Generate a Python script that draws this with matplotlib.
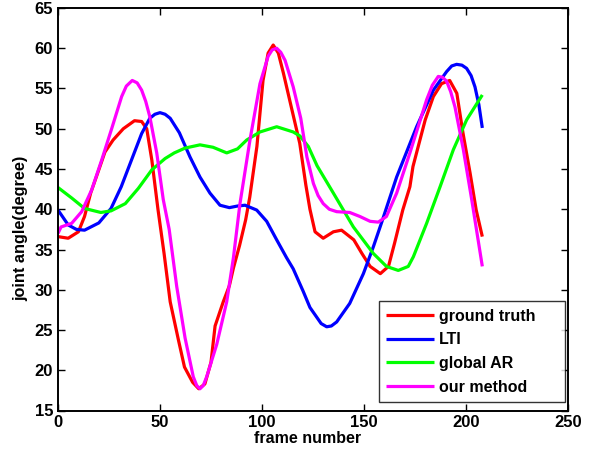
import matplotlib
matplotlib.use("Agg")
import matplotlib.pyplot as plt

# Ground truth joint angle trajectory
gt_x = [0, 5, 10, 13, 16, 20, 23, 27, 32, 37.5, 41, 43.5, 46, 49, 52, 55, 59, 62, 66, 69,
        72, 75, 77, 81, 84, 86, 89, 92, 94, 97.5, 100.5, 103, 105.5, 108, 110.5, 115, 118.5,
        121.5, 123.5, 126, 130, 135, 139, 145, 149, 153, 158, 162, 165, 169, 172.5, 174, 180,
        184, 188, 192, 195.5, 198.5, 202, 205, 208]
gt_y = [36.6, 36.4, 37.2, 39.1, 42, 44.9, 47.1, 48.6, 50, 51, 50.9, 50, 46.1, 40, 34.5, 28.5,
        23.8, 20.4, 18.5, 17.7, 18.3, 21, 25.5, 28.5, 30.5, 32.7, 35.5, 38.7, 41.5, 47.8, 56,
        59.4, 60.4, 59.4, 56.9, 52, 48.2, 43, 40, 37.2, 36.4, 37.2, 37.4, 36.2, 34.5, 32.9, 32,
        32.9, 35.8, 39.9, 42.8, 45.3, 51.1, 54, 55.6, 56, 54.4, 49.5, 44.5, 39.9, 36.6]

# LTI prediction
lti_x = [0, 5, 9, 13, 20, 26, 31, 36, 41, 45, 47.5, 50, 52.5, 55, 59.5, 64.7, 69.6, 74.5,
         79.4, 84, 88, 91.7, 97.4, 102.3, 107.2, 112, 115.3, 120.2, 123.5, 126.8, 129, 131.7,
         134, 136.6, 143, 149.7, 154.6, 158.7, 166, 175.8, 184, 190.5, 193, 195.4, 198,
         200.3, 202.5, 204.4, 206.3, 208]
lti_y = [39.9, 38.05, 37.5, 37.4, 38.3, 40.1, 42.8, 46.1, 49.4, 51.3, 51.8, 52, 51.8, 51.3,
         49.5, 46.5, 44, 42, 40.5, 40.2, 40.4, 40.5, 39.9, 38.5, 36.2, 34, 32.6, 29.8, 27.8,
         26.6, 25.8, 25.4, 25.5, 26, 28.3, 32, 35.35, 38.4, 44, 50.25, 54.8, 57.1, 57.8, 58,
         57.9, 57.5, 56.6, 55.2, 53, 50.1]

# Global AR prediction
ar_x = [0, 6.7, 13, 21, 26, 33, 39.4, 46, 52.5, 57, 62.3, 69.6, 76, 82.7, 88, 92.5, 99,
        107.2, 115.3, 118.6, 122.7, 127, 135, 144.8, 154.6, 161, 166.8, 171.7, 174.2, 180.7,
        187.3, 193.8, 200.3, 208]
ar_y = [42.7, 41.4, 40.1, 39.6, 39.8, 40.7, 42.6, 44.9, 46.3, 47, 47.6, 48, 47.7, 47, 47.5,
        48.6, 49.6, 50.25, 49.6, 49.1, 47.8, 45.4, 42, 37.8, 34.5, 32.9, 32.4, 32.9, 34.1,
        38.25, 42.8, 47.4, 51.1, 54.2]

# Proposed method prediction
ours_x = [0, 1.5, 6.7, 11.6, 16.5, 21.4, 26.3, 31.2, 33.5, 36.4, 38.8, 41, 43, 45, 48.4,
          51.6, 54.5, 58.2, 62.3, 66.3, 68, 69.6, 71.2, 72.9, 77.8, 82.7, 86, 89.2, 94.1, 99,
          103, 105, 107.2, 109.2, 111.3, 115.3, 119, 122, 125.2, 127.5, 130, 133, 136.6, 143,
          148, 153, 157, 161, 166, 172.5, 180.7, 183.5, 186.4, 188.5, 190.5, 192.5, 194.6,
          198.7, 202.8, 208]
ours_y = [37, 37.8, 38.25, 39.7, 42.4, 46.1, 50, 54, 55.3, 56, 55.7, 54.8, 53.4, 51.5, 47,
          41.2, 37.5, 30.4, 24, 19.2, 18.1, 17.7, 18.1, 19.2, 23.2, 28.5, 34, 40.7, 48.6,
          55.6, 59, 59.8, 60, 59.5, 58.5, 55.2, 51.3, 46.5, 43.2, 41.7, 40.7, 40, 39.7, 39.6,
          39.1, 38.5, 38.4, 39.1, 42, 47, 53.6, 55.4, 56.5, 56.4, 55.9, 54.6, 52.7, 47.4,
          41.2, 32.9]

labels = ["ground truth", "LTI", "global AR", "our method"]
colors = ["#ff0000", "#0000ff", "#00ff00", "#ff00ff"]

x_ticks = [0, 50, 100, 150, 200, 250]
y_ticks = [15, 20, 25, 30, 35, 40, 45, 50, 55, 60, 65]

plt.rcParams["font.family"] = ["Liberation Sans", "DejaVu Sans"]
plt.rcParams["font.weight"] = "bold"

fig = plt.figure(figsize=(5.94, 4.49), dpi=100)
ax = fig.add_axes([58 / 594, 1 - 410.5 / 449, 510 / 594, 402.5 / 449])

series = [(gt_x, gt_y), (lti_x, lti_y), (ar_x, ar_y), (ours_x, ours_y)]
for (xs, ys), lab, col in zip(series, labels, colors):
    ax.plot(xs, ys, color=col, linewidth=2.3, label=lab,
            solid_joinstyle="round", solid_capstyle="butt")

ax.set_xlim(0, 250)
ax.set_ylim(15, 65)
ax.set_xticks(x_ticks)
ax.set_yticks(y_ticks)
ax.tick_params(direction="in", top=True, right=True, length=5, width=1.0,
               labelsize=12, pad=3.5)
for lbl in ax.get_xticklabels() + ax.get_yticklabels():
    lbl.set_fontweight("bold")
for sp in ax.spines.values():
    sp.set_linewidth(1.4)

ax.set_xlabel("frame number", fontsize=11.5, fontweight="bold")
ax.set_ylabel("joint angle(degree)", fontsize=11.7, fontweight="bold")
ax.xaxis.set_label_coords(0.490, -0.050)
ax.yaxis.set_label_coords(-0.0588, 0.453)

leg = ax.legend(loc="lower left", bbox_to_anchor=(0.629, 0.021, 0.365, 0.256),
                mode="expand", borderaxespad=0,
                fontsize=11.5, frameon=True, fancybox=False, edgecolor="black",
                handlelength=3.0, handletextpad=0.3, labelspacing=0.55,
                borderpad=0.45)
leg.get_frame().set_linewidth(1.0)
for t in leg.get_texts():
    t.set_fontweight("bold")

fig.savefig("out.png", dpi=100)
